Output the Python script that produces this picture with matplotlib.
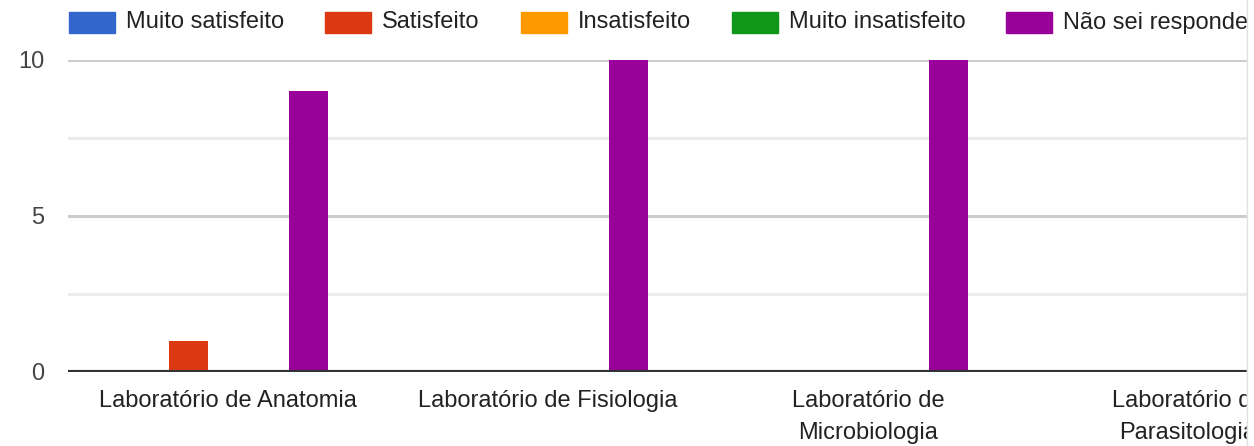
import numpy as np
import matplotlib.pyplot as plt
from matplotlib.patches import Rectangle
from matplotlib.lines import Line2D

plt.rcParams['font.family'] = ['Liberation Sans', 'DejaVu Sans']

categories = ['Laboratório de Anatomia', 'Laboratório de Fisiologia',
              'Laboratório de\nMicrobiologia', 'Laboratório de\nParasitologia']
series = ['Muito satisfeito', 'Satisfeito', 'Insatisfeito', 'Muito insatisfeito', 'Não sei responder']
colors = ['#3366cc', '#dc3912', '#ff9900', '#109618', '#990099']
muito_satisfeito = [0, 0, 0, 0]
satisfeito = [1, 0, 0, 0]
insatisfeito = [0, 0, 0, 0]
muito_insatisfeito = [0, 0, 0, 0]
nao_sei = [9, 10, 10, 10]
values = [muito_satisfeito, satisfeito, insatisfeito, muito_insatisfeito, nao_sei]

W, H = 1254, 446
FS = 17
fig = plt.figure(figsize=(W / 100, H / 100), dpi=100)

# plot area: x from 68px, 320px per category (runs past the right edge), y 0 at 372px, 10 at 60px
ax = fig.add_axes([68 / W, (H - 372) / H, 1280 / W, 312 / H])
x = np.arange(len(categories))
slot = 40 / 320
for i, (vals, c) in enumerate(zip(values, colors)):
    ax.bar(x + (i - 2) * slot, vals, width=39 / 320, color=c, zorder=3)

ax.set_xlim(-0.5, len(categories) - 0.5)
ax.set_ylim(0, 10)
for s in ax.spines.values():
    s.set_visible(False)
for yv in [2.5, 7.5]:
    ax.axhline(yv, color='#ebebeb', lw=2.2, zorder=1)
for yv in [5, 10]:
    ax.axhline(yv, color='#cccccc', lw=2.2, zorder=1)
ax.axhline(0, color='#333333', lw=3, zorder=4)

ax.set_yticks([0, 5, 10])
ax.set_yticklabels(['0', '5', '10'], fontsize=FS, color='#444444')
ax.tick_params(axis='y', length=0, pad=17)
ax.set_xticks(x)
ax.set_xticklabels(categories, fontsize=FS, color='#222222', linespacing=1.6, va='top')
ax.tick_params(axis='x', length=0, pad=13)

# legend across the top
fig.canvas.draw()
renderer = fig.canvas.get_renderer()
px = 69
for name, c in zip(series, colors):
    fig.patches.append(Rectangle((px / W, 1 - 33 / H), 46 / W, 21 / H,
                                 transform=fig.transFigure, color=c, figure=fig))
    t = fig.text((px + 57) / W, 1 - 22.5 / H, name, fontsize=FS, color='#222222',
                 va='center', ha='left')
    bb = t.get_window_extent(renderer)
    px = bb.x1 + 41

# clipped right edge with thin border
fig.patches.append(Rectangle((1247 / W, 0), 7 / W, 1, transform=fig.transFigure,
                             color='white', figure=fig, zorder=10))
fig.lines.append(Line2D([1246.5 / W, 1246.5 / W], [0, 1], transform=fig.transFigure,
                        color='#e0e0e0', lw=1, figure=fig, zorder=11))

fig.savefig('out.png', dpi=100)
